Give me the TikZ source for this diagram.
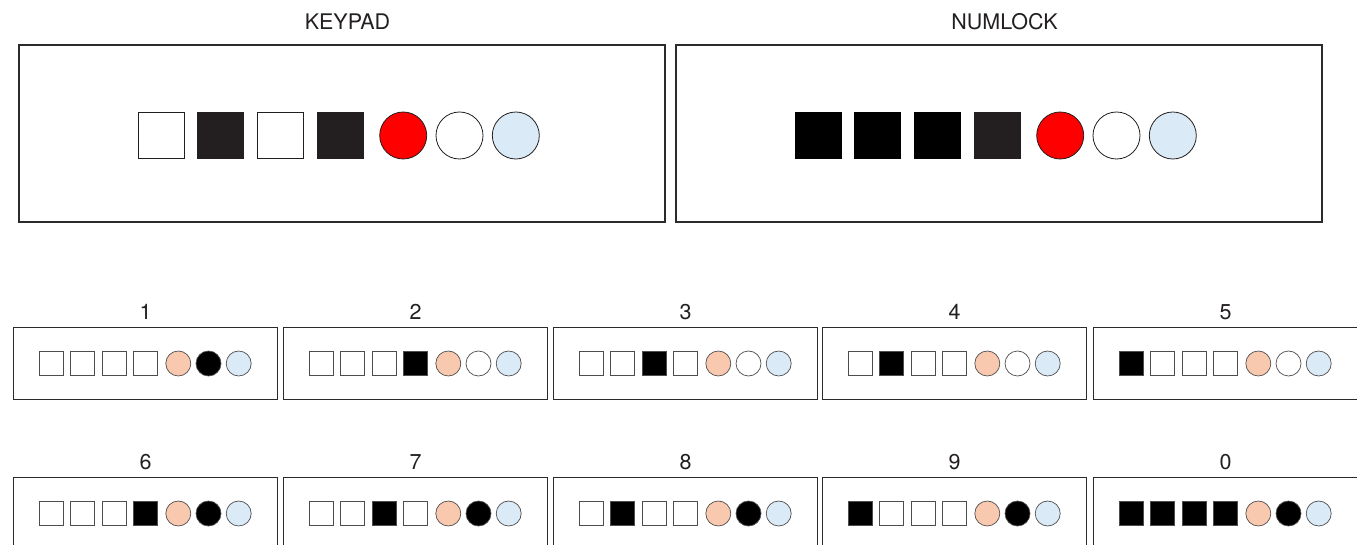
\documentclass[tikz,border=0pt]{standalone}
\usepackage{fontspec}
\setmainfont{TeX Gyre Heros}
\usepackage{xcolor}
\usepackage{tikz}
\usetikzlibrary{positioning}
\definecolor{darkkey}{HTML}{231F20}
\definecolor{framecol}{HTML}{2B2B2B}
\definecolor{ledred}{HTML}{FF0000}
\definecolor{ledblue}{HTML}{DAEAF6}
\definecolor{ledpeach}{HTML}{F8C9AF}
% one small panel: name, x, y, digit, four key fills, middle led fill
\newcommand{\digitpanel}[9]{%
  \node[smallbox] (#1) at (#2,#3) {};
  \node[lbl,above=7pt of #1] (#1-lbl) {#4};
  \node[smallkey,fill=#5] (#1-k1) at ([xshift=-94pt]#1.center) {};
  \node[smallkey,fill=#6,right=6.5pt of #1-k1] (#1-k2) {};
  \node[smallkey,fill=#7,right=6.5pt of #1-k2] (#1-k3) {};
  \node[smallkey,fill=#8,right=6.5pt of #1-k3] (#1-k4) {};
  \node[smallled,fill=ledpeach,right=8pt of #1-k4] (#1-l1) {};
  \node[smallled,fill=#9,right=4.5pt of #1-l1] (#1-l2) {};
  \node[smallled,fill=ledblue,right=4.5pt of #1-l2] (#1-l3) {};
}

\begin{document}
\begin{tikzpicture}[
  x=1pt,y=-1pt,
  bigbox/.style={rectangle,draw=framecol,line width=2pt,inner sep=0pt,minimum width=646pt,minimum height=177pt},
  smallbox/.style={rectangle,draw=framecol,line width=1.3pt,inner sep=0pt,minimum width=264pt,minimum height=72pt},
  bigkey/.style={rectangle,draw=darkkey,line width=0.8pt,inner sep=0pt,minimum size=46pt},
  bigled/.style={circle,draw=darkkey,line width=0.8pt,inner sep=0pt,minimum size=47pt},
  smallkey/.style={rectangle,draw=darkkey!80,line width=0.7pt,inner sep=0pt,minimum size=24pt},
  smallled/.style={circle,draw=darkkey!80,line width=0.7pt,inner sep=0pt,minimum size=25pt},
  lbl/.style={inner sep=0pt,font=\fontsize{21.5}{24}\selectfont,text=darkkey}
]
\useasboundingbox (0,0) rectangle (1357,545);

% keypad mode
\node[bigbox] (kp) at (341.5,133.5) {};
\node[lbl,above=14pt of kp,xshift=6pt] (kp-lbl) {KEYPAD};
\node[bigkey,fill=white] (kp-k1) at ([xshift=-180.5pt,yshift=-2pt]kp.center) {};
\node[bigkey,fill=darkkey,right=13pt of kp-k1] (kp-k2) {};
\node[bigkey,fill=white,right=13pt of kp-k2] (kp-k3) {};
\node[bigkey,fill=darkkey,right=13pt of kp-k3] (kp-k4) {};
\node[bigled,fill=ledred,right=15.5pt of kp-k4] (kp-l1) {};
\node[bigled,fill=white,right=8.5pt of kp-l1] (kp-l2) {};
\node[bigled,fill=ledblue,right=8.5pt of kp-l2] (kp-l3) {};

% numlock mode
\node[bigbox] (nl) at (998.5,133.5) {};
\node[lbl,above=14pt of nl,xshift=6pt] (nl-lbl) {NUMLOCK};
\node[bigkey,fill=black,draw=black] (nl-k1) at ([xshift=-180.5pt,yshift=-2pt]nl.center) {};
\node[bigkey,fill=black,draw=black,right=13pt of nl-k1] (nl-k2) {};
\node[bigkey,fill=black,draw=black,right=13pt of nl-k2] (nl-k3) {};
\node[bigkey,fill=darkkey,right=13pt of nl-k3] (nl-k4) {};
\node[bigled,fill=ledred,right=15.5pt of nl-k4] (nl-l1) {};
\node[bigled,fill=white,right=8.5pt of nl-l1] (nl-l2) {};
\node[bigled,fill=ledblue,right=8.5pt of nl-l2] (nl-l3) {};

% digits
\digitpanel{d1}{145.5}{363.5}{1}{white}{white}{white}{white}{black}
\digitpanel{d2}{415.5}{363.5}{2}{white}{white}{white}{black}{white}
\digitpanel{d3}{685.5}{363.5}{3}{white}{white}{black}{white}{white}
\digitpanel{d4}{954.5}{363.5}{4}{white}{black}{white}{white}{white}
\digitpanel{d5}{1225.5}{363.5}{5}{black}{white}{white}{white}{white}
\digitpanel{d6}{145.5}{513.5}{6}{white}{white}{white}{black}{black}
\digitpanel{d7}{415.5}{513.5}{7}{white}{white}{black}{white}{black}
\digitpanel{d8}{685.5}{513.5}{8}{white}{black}{white}{white}{black}
\digitpanel{d9}{954.5}{513.5}{9}{black}{white}{white}{white}{black}
\digitpanel{d0}{1225.5}{513.5}{0}{black}{black}{black}{black}{black}
\end{tikzpicture}
\end{document}
